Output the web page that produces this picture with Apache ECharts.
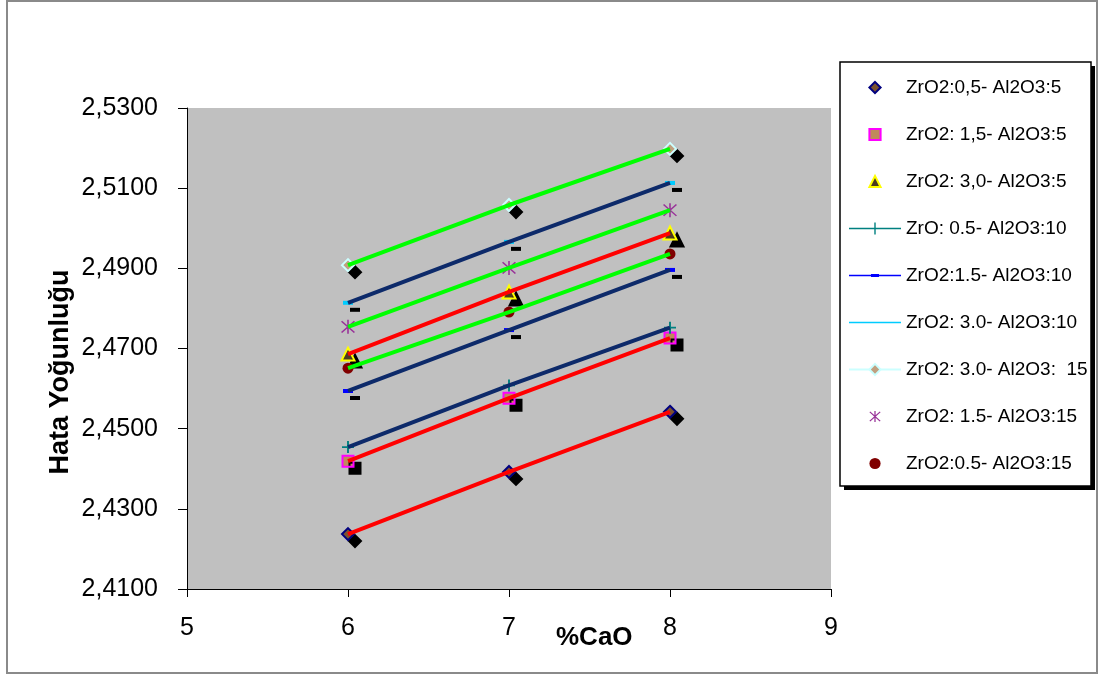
<!DOCTYPE html>
<html>
<head>
<meta charset="utf-8">
<script src="https://cdn.jsdelivr.net/npm/echarts@6/dist/echarts.min.js"></script>
<style>
  html, body { margin: 0; padding: 0; background: #fff; }
  #main { width: 1101px; height: 679px; }
</style>
</head>
<body>
<div id="main"></div>
<script>
// values
var caoValues = [6, 7, 8];
var seriesNames = [
    'ZrO2:0,5- Al2O3:5',
    'ZrO2: 1,5- Al2O3:5',
    'ZrO2: 3,0- Al2O3:5',
    'ZrO: 0.5- Al2O3:10',
    'ZrO2:1.5- Al2O3:10',
    'ZrO2: 3.0- Al2O3:10',
    'ZrO2: 3.0- Al2O3:  15',
    'ZrO2: 1.5- Al2O3:15',
    'ZrO2:0.5- Al2O3:15'
];
var zr05al5  = [2.4237, 2.4392, 2.4542];
var zr15al5  = [2.4419, 2.4576, 2.4726];
var zr30al5  = [2.4686, 2.4841, 2.4988];
var zr05al10 = [2.4454, 2.4608, 2.4752];
var zr15al10 = [2.4594, 2.4746, 2.4896];
var zr30al10 = [2.4814, 2.4966, 2.5113];
var zr30al15 = [2.4908, 2.5058, 2.5198];
var zr15al15 = [2.4754, 2.4901, 2.5045];
var zr05al15 = [2.4651, 2.4791, 2.4936];
var yTicks = [2.41, 2.43, 2.45, 2.47, 2.49, 2.51, 2.53];
var xTicks = [5, 6, 7, 8, 9];

var allValues = [zr05al5, zr15al5, zr30al5, zr05al10, zr15al10, zr30al10, zr30al15, zr15al15, zr05al15];

var font = "'Liberation Sans', Arial, sans-serif";
var shadow = {shadowColor: '#000', shadowBlur: 0, shadowOffsetX: 7, shadowOffsetY: 7};
var noShadow = {shadowColor: 'transparent', shadowBlur: 0, shadowOffsetX: 0, shadowOffsetY: 0};

var plusPath = 'path://M4.2,0H5.8V4.2H10V5.8H5.8V10H4.2V5.8H0V4.2H4.2Z';
var starPath = 'path://M4.5,0H5.5V10H4.5Z M0.6,1.3L1.3,0.6L9.4,8.7L8.7,9.4Z M8.7,0.6L9.4,1.3L1.3,9.4L0.6,8.7Z';

// marker look for each series (same order as seriesNames)
var markers = [
    {symbol: 'diamond', size: 12, item: {color: '#7a5230', borderColor: '#000080', borderWidth: 2}, shadow: true},
    {symbol: 'rect', size: 11, item: {color: '#c08a5a', borderColor: '#ff00ff', borderWidth: 2}, shadow: true},
    {symbol: 'triangle', size: 13, item: {color: '#4a3a20', borderColor: '#ffff00', borderWidth: 2}, shadow: true},
    {symbol: plusPath, size: 12, item: {color: '#008080'}, line: '#008080', shadow: false},
    {symbol: 'rect', size: [10, 4], item: {color: '#0000ff'}, line: '#0000ff', shadow: true},
    {symbol: 'rect', size: [10, 4], item: {color: '#00ccff'}, line: '#00ccff', shadow: true},
    {symbol: 'diamond', size: 12, item: {color: '#c0a080', borderColor: '#ccffff', borderWidth: 2}, line: '#ccffff', shadow: true},
    {symbol: starPath, size: 14, item: {color: '#993399'}, shadow: false},
    {symbol: 'circle', size: 11, item: {color: '#800000'}, shadow: false}
];
var trendColors = ['#ff0000', '#ff0000', '#ff0000', '#0d2a6a', '#0d2a6a', '#0d2a6a', '#00ff00', '#00ff00', '#00ff00'];

// legend icons for the line-type entries
var legendIcons = [
    null, null, null,
    'path://M0,6.3H52V7.7H0Z M25.3,1H26.7V13H25.3Z',
    'path://M0,6.2H52V7.8H0Z M22,5.6H30V8.4H22Z',
    'path://M0,6.2H52V7.8H0Z',
    null, null, null
];

function pairs(vals) {
    var out = [];
    for (var i = 0; i < caoValues.length; i++) out.push([caoValues[i], vals[i]]);
    return out;
}

var series = [];
var legendData = [];
for (var i = 0; i < seriesNames.length; i++) {
    var m = markers[i];
    series.push({
        name: seriesNames[i],
        type: 'line',
        data: pairs(allValues[i]),
        symbol: m.symbol,
        symbolSize: m.size,
        showAllSymbol: true,
        itemStyle: Object.assign({}, m.item, m.shadow ? shadow : noShadow),
        lineStyle: m.line ? {color: m.line, width: 2} : {opacity: 0},
        z: 2
    });
    if (legendIcons[i]) {
        legendData.push({name: seriesNames[i], icon: legendIcons[i],
                         itemStyle: {color: m.line, borderWidth: 0}});
    } else {
        legendData.push({name: seriesNames[i]});
    }
}
// trend lines drawn over the markers
for (var j = 0; j < seriesNames.length; j++) {
    series.push({
        name: 'trend' + j,
        type: 'line',
        data: pairs(allValues[j]),
        symbol: 'none',
        lineStyle: {color: trendColors[j], width: 4},
        z: 3
    });
}

var chart = echarts.init(document.getElementById('main'));
var option = {
    animation: false,
    backgroundColor: '#fff',
    grid: {
        left: 187, right: 270, top: 108, bottom: 90,
        show: true, backgroundColor: '#c0c0c0', borderWidth: 0
    },
    xAxis: {
        type: 'value',
        min: xTicks[0], max: xTicks[xTicks.length - 1], interval: 1,
        axisLine: {onZero: false, lineStyle: {color: '#000', width: 1}},
        axisTick: {length: 8, lineStyle: {color: '#000'}},
        axisLabel: {color: '#000', fontSize: 25, fontFamily: font, margin: 27},
        splitLine: {show: false}
    },
    yAxis: {
        type: 'value',
        min: yTicks[0], max: yTicks[yTicks.length - 1], interval: 0.02,
        axisLine: {show: true, lineStyle: {color: '#000', width: 1}},
        axisTick: {show: true, length: 9, lineStyle: {color: '#000'}},
        axisLabel: {
            color: '#000', fontSize: 25, fontFamily: font, margin: 29,
            formatter: function (v) { return v.toFixed(4).replace('.', ','); }
        },
        splitLine: {show: false}
    },
    legend: {
        data: legendData,
        orient: 'vertical',
        left: 848, top: 78,
        padding: 0,
        itemWidth: 52, itemHeight: 14, itemGap: 28,
        itemStyle: noShadow,
        textStyle: {color: '#000', fontSize: 19, fontFamily: font},
        selectedMode: false
    },
    graphic: [
        {type: 'rect', shape: {x: 7, y: 1, width: 1090, height: 672},
         style: {fill: 'none', stroke: '#8a8a8a', lineWidth: 2}, z: -10},
        {type: 'rect', shape: {x: 844, y: 66, width: 251, height: 424},
         style: {fill: '#000'}, z: -6},
        {type: 'rect', shape: {x: 840, y: 62, width: 251, height: 424},
         style: {fill: '#fff', stroke: '#000', lineWidth: 1.5}, z: -5},
        {type: 'text', left: 556, top: 625,
         style: {text: '%CaO', fill: '#000', font: 'bold 26px ' + font}},
        {type: 'text', x: 61, y: 372, rotation: Math.PI / 2,
         style: {text: 'Hata Yoğunluğu', fill: '#000', font: 'bold 27px ' + font,
                 align: 'center', verticalAlign: 'middle'}}
    ],
    series: series
};
chart.setOption(option);
</script>
</body>
</html>
